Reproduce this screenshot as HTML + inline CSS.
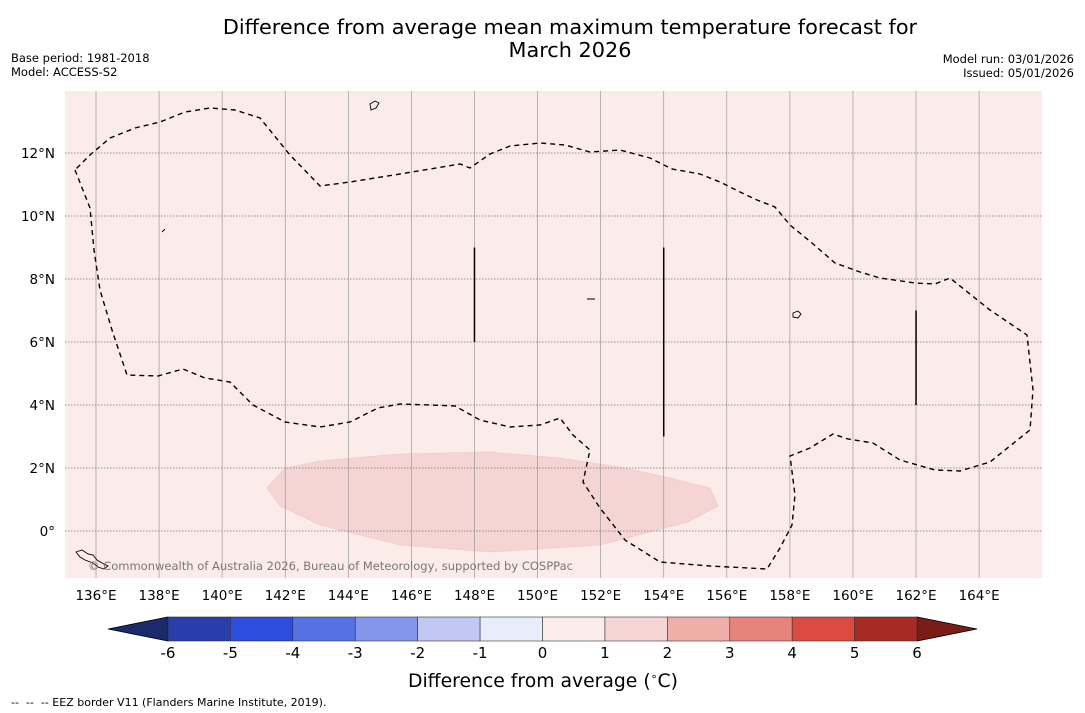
<!DOCTYPE html>
<html><head><meta charset="utf-8"><style>
body{margin:0;background:#fff;font-family:"Liberation Sans","DejaVu Sans",sans-serif}
svg{display:block}
</style></head><body>
<svg width="1085" height="713" viewBox="0 0 1085 713" font-family="DejaVu Sans, Liberation Sans, sans-serif">
<text x="570" y="34" font-size="20.8" text-anchor="middle">Difference from average mean maximum temperature forecast for</text>
<text x="570" y="57" font-size="20.8" text-anchor="middle">March 2026</text>
<text x="11" y="62" font-size="11.5">Base period: 1981-2018</text>
<text x="11" y="76" font-size="11.5">Model: ACCESS-S2</text>
<text x="1074" y="63" font-size="11.5" text-anchor="end">Model run: 03/01/2026</text>
<text x="1074" y="77" font-size="11.5" text-anchor="end">Issued: 05/01/2026</text>
<g id="map"></g>
<g id="cbar"></g>
<text x="543" y="687" font-size="18.8" text-anchor="middle">Difference from average (<tspan font-size="11" dy="-7">∘</tspan><tspan dy="7">C)</tspan></text>
<text x="11" y="706" font-size="11" style="white-space:pre">--  --  -- EEZ border V11 (Flanders Marine Institute, 2019).</text>
</svg>
<script>
const lonTicks=[136,138,140,142,144,146,148,150,152,154,156,158,160,162,164];
const latTicks=[0,2,4,6,8,10,12];
const cbarBounds=[-6,-5,-4,-3,-2,-1,0,1,2,3,4,5,6];
const cbarColors=["#2a3eab","#2d4ddf","#5571e3","#8396eb","#c0c8f3","#e9ecfa","#fbecea","#f5d5d4","#efaea8","#e8837c","#dc4b41","#a82a24"];
const eezLon=[];const eezLat=[];
const eezPx=[[75,170],[90,208],[94,250],[100,290],[112,330],[127,375],[158,376],[183,369],[205,378],[230,382],[253,405],[285,422],[320,427],[350,422],[378,408],[400,404],[430,405],[455,406],[480,420],[510,427],[540,425],[560,418],[573,435],[590,450],[583,482],[600,508],[625,540],[660,562],[710,566],[767,569],[780,548],[792,525],[795,495],[790,456],[810,448],[833,434],[848,439],[873,443],[900,460],[935,470],[960,471],[990,462],[1030,430],[1033,390],[1027,335],[990,310],[950,278],[935,284],[915,283],[880,278],[860,272],[835,263],[812,243],[790,225],[775,207],[757,200],[740,192],[720,182],[700,174],[672,169],[650,158],[620,150],[590,152],[565,145],[540,143],[510,146],[490,154],[470,168],[460,164],[400,174],[350,182],[320,186],[290,155],[260,118],[235,110],[210,108],[185,112],[160,122],[135,128],[110,138],[90,155],[75,170]];
eezPx.forEach(p=>{eezLon.push(136+(p[0]-96)/31.54);eezLat.push((531-p[1])/31.5);});
const anomLon=[];const anomLat=[];
[[267,488],[285,468],[320,461],[400,454],[490,452],[560,458],[620,467],[670,478],[710,488],[718,506],[688,522],[600,545],[490,552],[400,545],[320,525],[280,506]].forEach(p=>{anomLon.push(136+(p[0]-96)/31.54);anomLat.push((531-p[1])/31.5);});
const segLon=[148,154,162];const segLat0=[6,3,4];const segLat1=[9,9,7];
const NS="http://www.w3.org/2000/svg";
const X=lon=>96+(lon-136)*31.54, Y=lat=>531-lat*31.5;
function mk(t,a,p){const e=document.createElementNS(NS,t);for(const k in a)e.setAttribute(k,a[k]);p.appendChild(e);return e;}
const map=document.getElementById('map');
const bg=mk('rect',{x:65,y:91,width:977,height:487,fill:"#fbecea"},map);


const an=mk('polygon',{points:anomLon.map((l,i)=>X(l)+","+Y(anomLat[i])).join(" "),fill:"#f5d5d4",stroke:"#ecc4c2","stroke-width":0.6},map);


lonTicks.forEach(l=>{
 const g=mk('line',{x1:X(l),x2:X(l),y1:91,y2:578,stroke:"#999","stroke-width":0.7},map);
 
 
 const t=mk('text',{x:X(l),y:600,"font-size":13.5,"text-anchor":"middle"},map);t.textContent=l+"°E";
 
 
});
latTicks.forEach(l=>{
 const g=mk('line',{x1:65,x2:1042,y1:Y(l),y2:Y(l),stroke:"#777","stroke-width":0.7,"stroke-dasharray":"1.5,1.5"},map);
 
 
 const t=mk('text',{x:55,y:Y(l)+5,"font-size":13.5,"text-anchor":"end"},map);t.textContent=l==0?"0°":l+"°N";
 
 
});
const ez=mk('polyline',{points:eezLon.map((l,i)=>X(l)+","+Y(eezLat[i])).join(" "),fill:"none",stroke:"#000","stroke-width":1.4,"stroke-dasharray":"5,4"},map);


segLon.forEach((l,i)=>{
 const s=mk('line',{x1:X(l),x2:X(l),y1:Y(segLat0[i]),y2:Y(segLat1[i]),stroke:"#000","stroke-width":1.5},map);
 
 
});
const isl=mk('path',{d:"M76,552 l6,-2 6,4 5,1 4,5 5,3 6,3 -4,3 -6,-2 -5,-4 -8,-3 -5,-3z M370,104 l5,-3 4,2 -3,5 -5,2z M793,313 l5,-2 3,3 -3,4 -5,-1z M587,299 h8 M162,232 l3,-3",fill:"none",stroke:"#000","stroke-width":0.9},map);


const cp=mk('text',{x:88,y:570,"font-size":11.5,fill:"#777",textLength:485},map);cp.textContent="© Commonwealth of Australia 2026, Bureau of Meteorology, supported by COSPPac";


const cb=document.getElementById('cbar');
const CX=v=>168+(v+6)*62.42, cy0=617, cy1=641;
const tl=mk('polygon',{points:`108,629 ${CX(-6)},${cy0} ${CX(-6)},${cy1}`,fill:"#1b2a6b",stroke:"#000","stroke-width":0.8},cb);


const tr=mk('polygon',{points:`977,629 ${CX(6)},${cy0} ${CX(6)},${cy1}`,fill:"#7a1d17",stroke:"#000","stroke-width":0.8},cb);


cbarColors.forEach((c,i)=>{
 const r=mk('rect',{x:CX(cbarBounds[i]),y:cy0,width:CX(cbarBounds[i+1])-CX(cbarBounds[i]),height:cy1-cy0,fill:c,stroke:"#333","stroke-width":0.6},cb);
 
 
});
cbarBounds.forEach(v=>{
 const t=mk('text',{x:CX(v),y:658,"font-size":15,"text-anchor":"middle"},cb);t.textContent=v;
 
 
});
</script>
</body></html>
